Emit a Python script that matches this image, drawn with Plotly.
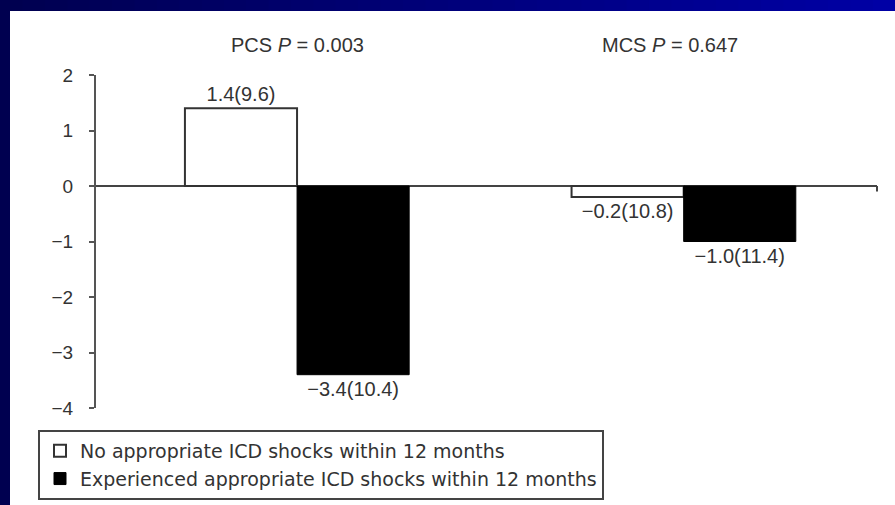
import plotly.graph_objects as go

# ---- data ----
categories = ["PCS", "MCS"]
no_shock_values = [1.4, -0.2]
no_shock_labels = ["1.4(9.6)", "\u22120.2(10.8)"]
shock_values = [-3.4, -1.0]
shock_labels = ["\u22123.4(10.4)", "\u22121.0(11.4)"]
group_titles = ["PCS <i>P</i> = 0.003", "MCS <i>P</i> = 0.647"]
series_names = ["No appropriate ICD shocks within 12 months",
                "Experienced appropriate ICD shocks within 12 months"]
y_ticks = [2, 1, 0, -1, -2, -3, -4]
y_ticktext = ["2", "1", "0", "\u22121", "\u22122", "\u22123", "\u22124"]

W, H = 895, 505
L, R, T, B = 96, 18, 75, 97
pw, ph = W - L - R, H - T - B

def px(x):
    return (x - L) / pw

def py(y):
    return (H - B - y) / ph

TXT = "#333333"
FONT = "Liberation Sans, Arial, sans-serif"
LEG_FONT = "DejaVu Sans, sans-serif"

fig = go.Figure()
fig.add_trace(go.Bar(
    x=categories, y=no_shock_values, name=series_names[0],
    marker=dict(color="white", line=dict(color="#333333", width=2)),
    text=no_shock_labels, textposition="outside", cliponaxis=False,
    textfont=dict(size=20, color=TXT, family=FONT),
))
fig.add_trace(go.Bar(
    x=categories, y=shock_values, name=series_names[1],
    marker=dict(color="black", line=dict(color="black", width=1)),
    text=shock_labels, textposition="outside", cliponaxis=False,
    textfont=dict(size=20, color=TXT, family=FONT),
))

shapes = []
# slide background: dark left strip and gradient top band
n = 40
for i in range(n):
    t = i / (n - 1)
    b = int(80 + t * (165 - 80))
    shapes.append(dict(type="rect", xref="paper", yref="paper",
                       x0=px(W * i / n), x1=px(W * (i + 1) / n + 1),
                       y0=py(11), y1=py(-1),
                       fillcolor=f"rgb(0,0,{b})", line=dict(width=0), layer="below"))
shapes.append(dict(type="rect", xref="paper", yref="paper",
                   x0=px(-1), x1=px(10), y0=py(H + 1), y1=py(11),
                   fillcolor="#000050", line=dict(width=0), layer="below"))
# small end tick of the category axis
shapes.append(dict(type="line", xref="paper", yref="y",
                   x0=1, x1=1, y0=0, y1=-0.1,
                   line=dict(color="#444444", width=2)))

title_shift = [0, -14]
annotations = []
for cat, title, sh in zip(categories, group_titles, title_shift):
    annotations.append(dict(x=cat, xref="x", y=py(45), yref="paper",
                            text=title, showarrow=False, xshift=sh,
                            font=dict(size=20, color=TXT, family=FONT),
                            xanchor="center", yanchor="middle"))

fig.update_layout(
    width=W, height=H,
    margin=dict(l=L, r=R, t=T, b=B, pad=0, autoexpand=False),
    paper_bgcolor="white", plot_bgcolor="rgba(0,0,0,0)",
    barmode="group", bargap=0.42, bargroupgap=0,
    font=dict(family=FONT, color=TXT),
    shapes=shapes, annotations=annotations,
    showlegend=True,
    legend=dict(x=px(38), y=py(430), xanchor="left", yanchor="top",
                bordercolor="#444444", borderwidth=2, bgcolor="white",
                font=dict(size=19, color=TXT, family=LEG_FONT),
                itemwidth=30, traceorder="normal"),
    xaxis=dict(range=[-0.52, 1.5], showticklabels=False, showline=False,
               showgrid=False, zeroline=False, ticks=""),
    yaxis=dict(range=[-4, 2], tickvals=y_ticks, ticktext=y_ticktext,
               showline=True, linecolor="#555555", linewidth=2,
               ticks="outside", ticklen=5, tickcolor="#555555", tickwidth=2,
               showgrid=False, zeroline=True, zerolinecolor="#444444",
               zerolinewidth=2, tickfont=dict(size=19, color=TXT, family=FONT),
               ticklabelstandoff=12),
)

fig.write_html("out.html", config={"displayModeBar": False},
               post_script="document.body.style.margin='0px';")
